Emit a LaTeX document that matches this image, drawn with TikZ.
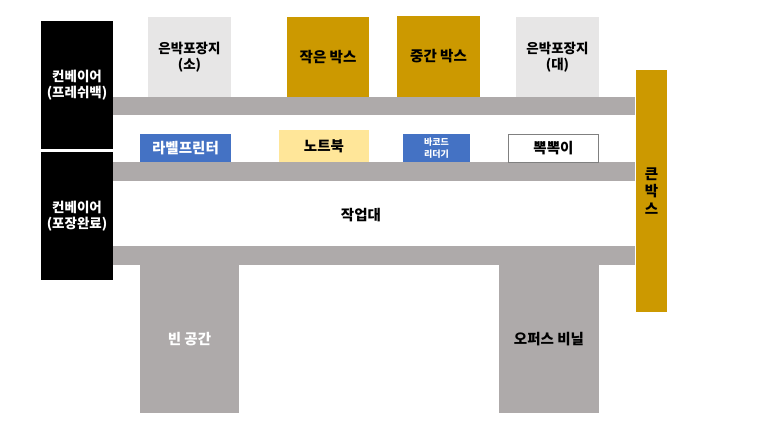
\documentclass[tikz,border=0pt]{standalone}
\usepackage{fontspec}
\setmainfont{Noto Sans CJK KR}
\definecolor{beltgray}{RGB}{174,170,170}
\definecolor{boxgold}{RGB}{204,153,0}
\definecolor{foilgray}{RGB}{231,230,230}
\definecolor{toolblue}{RGB}{68,114,196}
\definecolor{padyellow}{RGB}{255,230,153}
\tikzset{
  every node/.style={inner sep=0pt, outer sep=0pt, align=center,
    font=\bfseries\fontsize{14.5}{16}\selectfont},
  conveyor/.style={fill=black, text=white, minimum width=72pt, minimum height=128pt,
    font=\bfseries\fontsize{13.5}{16}\selectfont},
  belt/.style={fill=beltgray, minimum width=522pt, minimum height=18.5pt},
  foil/.style={fill=foilgray, minimum width=83pt, minimum height=80pt,
    font=\bfseries\fontsize{13.5}{16}\selectfont},
  goldbox/.style={fill=boxgold, minimum width=82pt, minimum height=80pt},
  tool/.style={minimum height=28pt},
  floor/.style={fill=beltgray, minimum width=99.5pt, minimum height=148pt}
}
\begin{document}
\begin{tikzpicture}[x=1pt, y=-1pt]
  \useasboundingbox (0,0) rectangle (773,435);
  % conveyors on the left
  \node[conveyor] (fresh) at (77,85) {컨베이어\\(프레쉬백)};
  \node[conveyor] (done) at (77,216) {컨베이어\\(포장완료)};
  % belts
  \node[belt] (belt1) at (374,106) {};
  \node[belt] (belt2) at (374,171.5) {};
  \node[belt] (belt3) at (374,255.5) {};
  % top row
  \node[foil] (foilS) at (189.5,57) {은박포장지\\(소)};
  \node[goldbox] (boxS) at (328,57) {작은 박스};
  \node[goldbox, minimum width=83pt, minimum height=81pt] (boxM) at (438.5,56.5) {중간 박스};
  \node[foil] (foilL) at (557.5,57) {은박포장지\\(대)};
  \node[fill=boxgold, minimum width=31pt, minimum height=242pt,
    font=\bfseries\fontsize{14.5}{17.5}\selectfont] (boxL) at (651.5,191) {큰\\박\\스};
  % middle row
  \node[tool, fill=toolblue, text=white, minimum width=91pt] (printer) at (185.5,148) {라벨프린터};
  \node[tool, fill=padyellow, minimum width=90pt, minimum height=32pt] (laptop) at (324,146) {노트북};
  \node[tool, fill=toolblue, text=white, minimum width=67pt,
    font=\bfseries\fontsize{9}{11.5}\selectfont] (reader) at (436.5,148) {바코드\\리더기};
  \node[tool, draw=gray, fill=white, line width=0.8pt, minimum width=90pt] (bubble) at (553.5,148) {뽁뽁이};
  \node (desk) at (361,215) {작업대};
  % bottom
  \node[floor, text=white] (empty) at (189.5,339) {빈 공간};
  \node[floor] (vinyl) at (549,339) {오퍼스 비닐};
\end{tikzpicture}
\end{document}
